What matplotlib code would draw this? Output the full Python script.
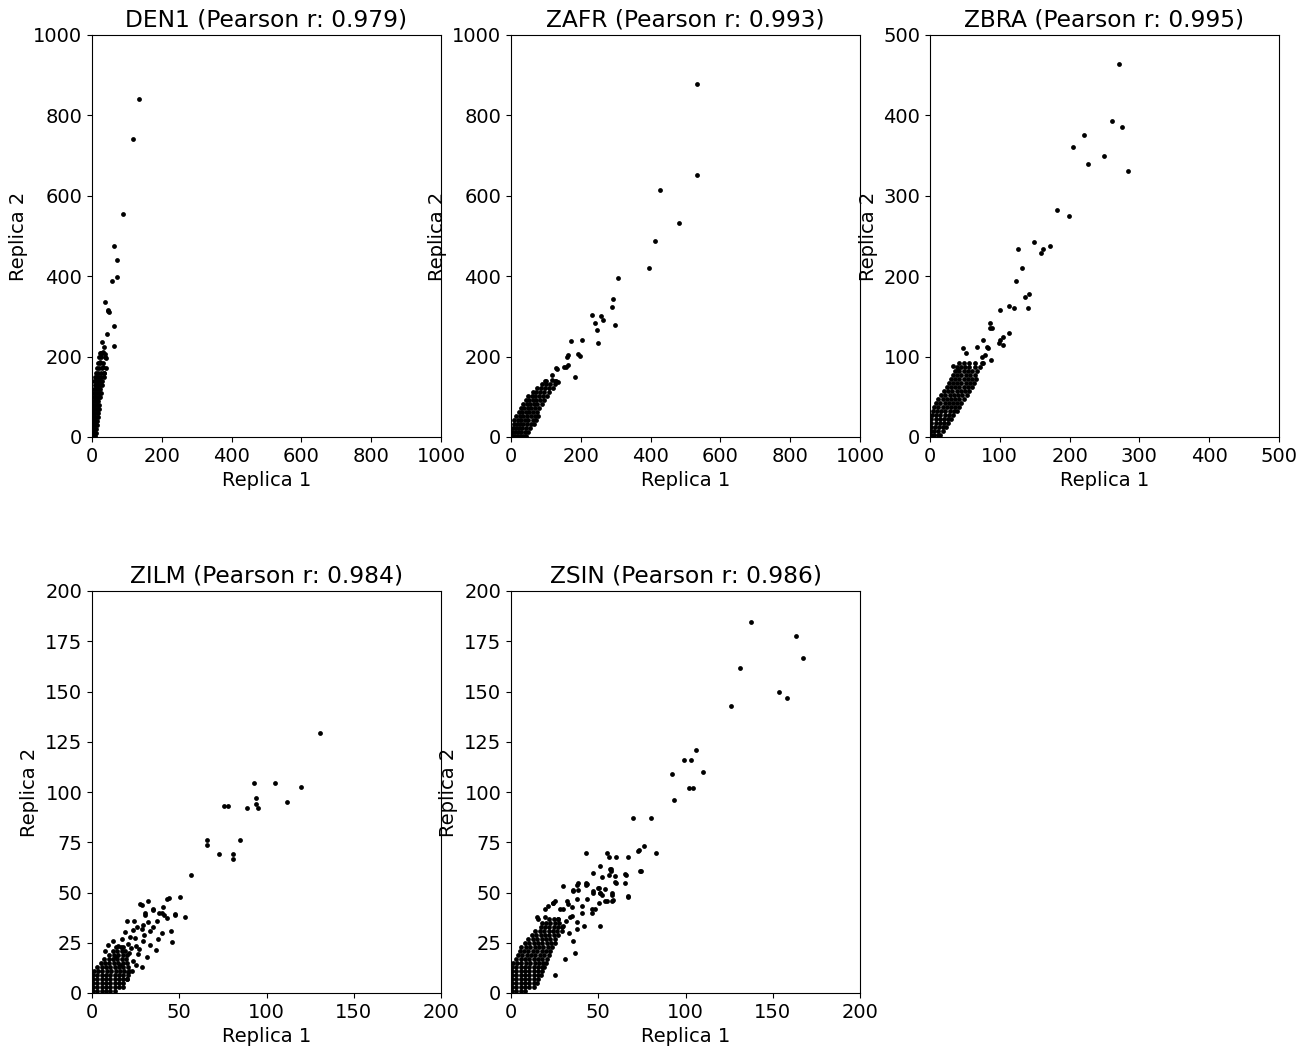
import numpy as np
import matplotlib
matplotlib.use("Agg")
import matplotlib.pyplot as plt

plt.rcParams["font.size"] = 14

samples = ["DEN1", "ZAFR", "ZBRA", "ZILM", "ZSIN"]
pearson_r = [0.979, 0.993, 0.995, 0.984, 0.986]
axis_max = [1000, 1000, 500, 200, 200]
xtick_step = [200, 200, 100, 50, 50]
ytick_step = [200, 200, 100, 25, 25]

# (replica 1, replica 2) counts per sample
den1_pts = [
    (1, 2), (5, 2), (9, 2), (2, 10), (7, 10), (12, 10), (1, 20), (6, 20), (11, 20),
    (3, 30), (8, 30), (13, 30), (2, 40), (7, 40), (12, 40), (15, 40),
    (1, 50), (5, 50), (10, 50), (16, 50), (3, 60), (8, 60), (13, 60), (17, 60),
    (2, 70), (6, 70), (11, 70), (16, 70), (19, 70), (4, 80), (9, 80), (14, 80), (20, 80),
    (3, 90), (8, 90), (13, 90), (18, 90), (5, 100), (10, 100), (15, 100), (21, 100), (24, 100),
    (4, 110), (9, 110), (14, 110), (19, 110), (25, 110), (6, 120), (11, 120), (16, 120), (22, 120),
    (8, 130), (13, 130), (18, 130), (24, 130), (28, 130), (7, 140), (12, 140), (17, 140), (23, 140), (30, 140),
    (10, 150), (15, 150), (21, 150), (27, 150), (33, 150), (12, 160), (18, 160), (25, 160), (34, 160),
    (14, 172), (20, 172), (28, 172), (18, 185), (24, 185), (31, 185), (20, 198), (27, 198), (36, 198),
    (22, 210), (30, 210),
    (23, 187), (32, 175), (39, 196), (26, 208), (31, 212), (37, 207), (39, 171), (34, 160),
    (28, 236), (33, 223), (64, 227), (43, 256), (64, 277), (47, 316), (49, 310), (45, 313),
    (37, 335), (58, 388), (73, 397), (73, 440), (64, 474), (89, 555), (118, 742), (135, 842),
]

zafr_pts = [
    (2, 3), (10, 3), (18, 3), (26, 3), (34, 3), (44, 3),
    (3, 12), (12, 12), (21, 12), (30, 12), (40, 12), (50, 12),
    (5, 22), (14, 22), (23, 22), (32, 22), (42, 22), (55, 22),
    (8, 32), (17, 32), (26, 32), (35, 32), (45, 32), (58, 32), (66, 32),
    (10, 42), (20, 42), (30, 42), (40, 42), (50, 42), (62, 42), (72, 42),
    (15, 52), (25, 52), (35, 52), (45, 52), (56, 52), (68, 52), (78, 52),
    (22, 62), (32, 62), (42, 62), (52, 62), (62, 62), (74, 62),
    (28, 72), (38, 72), (48, 72), (58, 72), (68, 72), (80, 72),
    (35, 82), (45, 82), (55, 82), (65, 82), (75, 82), (88, 82),
    (42, 92), (52, 92), (62, 92), (72, 92), (84, 92), (95, 92),
    (50, 102), (60, 102), (70, 102), (80, 102), (92, 102), (104, 102),
    (62, 112), (72, 112), (82, 112), (94, 112), (108, 112),
    (75, 122), (85, 122), (98, 122), (110, 122), (120, 122),
    (88, 132), (100, 132), (112, 132), (125, 132),
    (100, 140), (126, 140), (134, 138), (98, 140), (118, 141), (130, 139), (117, 154),
    (129, 171), (133, 168), (153, 174), (158, 173), (164, 178), (184, 150),
    (161, 200), (164, 203), (192, 206), (198, 201), (172, 239), (204, 242), (250, 235),
    (233, 303), (257, 300), (263, 291), (240, 284), (297, 278), (246, 267),
    (292, 343), (289, 324), (307, 396), (395, 421), (414, 488), (481, 533),
    (427, 614), (533, 652), (533, 878),
]

zbra_pts = [
    (1, 2), (6, 2), (11, 2), (15, 2), (1, 7), (6, 7), (12, 7), (18, 7),
    (1, 12), (7, 12), (13, 12), (19, 12), (23, 12), (2, 17), (8, 17), (14, 17), (20, 17), (26, 17),
    (2, 22), (8, 22), (14, 22), (20, 22), (26, 22), (30, 22),
    (3, 27), (9, 27), (15, 27), (21, 27), (27, 27), (33, 27),
    (4, 32), (10, 32), (16, 32), (22, 32), (28, 32), (34, 32), (38, 32),
    (6, 37), (12, 37), (18, 37), (24, 37), (30, 37), (36, 37), (42, 37),
    (9, 42), (15, 42), (21, 42), (27, 42), (33, 42), (39, 42), (45, 42),
    (12, 47), (18, 47), (24, 47), (30, 47), (36, 47), (42, 47), (49, 47),
    (16, 52), (22, 52), (28, 52), (34, 52), (40, 52), (46, 52), (53, 52),
    (20, 57), (26, 57), (32, 57), (38, 57), (44, 57), (50, 57), (56, 57),
    (24, 62), (30, 62), (36, 62), (42, 62), (48, 62), (54, 62), (60, 62),
    (27, 67), (33, 67), (39, 67), (45, 67), (51, 67), (57, 67), (63, 67),
    (30, 72), (36, 72), (42, 72), (48, 72), (54, 72), (60, 72), (66, 72),
    (33, 77), (39, 77), (45, 77), (51, 77), (57, 77), (64, 77),
    (36, 82), (42, 82), (48, 82), (54, 82), (60, 82), (68, 82),
    (38, 87), (44, 87), (50, 87), (56, 87), (64, 87), (72, 87),
    (42, 92), (48, 92), (56, 92), (64, 92), (74, 92),
    (46.7, 111), (52, 104), (66.7, 112), (33, 88.7), (40.5, 83), (88, 95.8), (76, 91.7),
    (76, 120.6), (81, 112.3), (83.3, 110.3), (78.6, 102), (73.8, 99.9),
    (100, 120.6), (104, 124.8), (98.6, 117.3), (104, 114.8), (113.3, 129.8),
    (86, 142), (85.7, 135.2), (88.6, 135.2), (100.5, 157.6), (113.3, 162.9), (121, 160),
    (140, 160.9), (135.7, 173.7), (141.9, 177.9), (122.9, 194), (131.9, 209.8),
    (125.7, 233.8), (148.6, 243), (162.4, 233.8), (159.5, 228.9), (172.4, 237.2),
    (181.4, 282.3), (198.6, 274.5), (204.8, 360.3), (221, 375.2), (225.7, 339.5),
    (248.6, 349.5), (260.5, 392.6), (275.7, 385.2), (283.8, 330.4), (270.5, 463.5),
]

zilm_pts = [
    (0.5, 1), (3, 1), (5.5, 1), (8, 1), (10.5, 1), (13, 1),
    (0.5, 3), (3, 3), (5.5, 3), (8, 3), (10.5, 3), (13, 3), (15.5, 3), (18, 3),
    (0.5, 5), (3, 5), (5.5, 5), (8, 5), (10.5, 5), (13, 5), (15.5, 5), (18, 5),
    (0.5, 7), (3, 7), (5.5, 7), (8, 7), (10.5, 7), (13, 7), (15.5, 7), (18, 7), (20, 7),
    (0.5, 9), (3, 9), (5.5, 9), (8, 9), (10.5, 9), (13, 9), (15.5, 9), (18, 9), (20.5, 9),
    (1, 11), (3.5, 11), (6, 11), (8.5, 11), (11, 11), (13.5, 11), (16, 11), (18.5, 11), (21, 11),
    (3, 13), (5.5, 13), (8, 13), (10.5, 13), (13, 13), (15.5, 13), (18, 13), (20.5, 13),
    (5, 15), (7.5, 15), (10, 15), (12.5, 15), (15, 15), (17.5, 15), (20, 15),
    (7, 17), (9.5, 17), (12, 17), (14.5, 17), (17, 17), (19.5, 17),
    (10, 19), (12.5, 19), (15, 19), (17.5, 19), (20, 19),
    (12, 21), (14.5, 21), (17, 21), (19, 21), (14, 23), (16.5, 23), (18, 23),
    (19.9, 6.9), (20.8, 10.3), (23, 11), (25, 14), (16, 14), (23.7, 16), (28.5, 12.8),
    (14, 18), (21, 20), (26.5, 19.5), (31.7, 18), (7.4, 21), (36.7, 21.3), (9, 24),
    (15.1, 23.5), (20.8, 24.3), (22.6, 22.3), (25.4, 23.6), (27, 22), (33, 24), (45.6, 25.2),
    (12, 26), (17, 27), (24.6, 27.6), (29.4, 26), (38, 27), (22, 28), (18.9, 30.1),
    (23.6, 31.5), (28.5, 31.8), (30, 29), (33.2, 30.6), (40, 30), (45, 31), (26, 33),
    (35, 33), (29, 34), (32.3, 35.1), (19.9, 35.9), (24, 36), (37, 36),
    (30.4, 38.7), (42.8, 37.4), (47.6, 39.2), (53.3, 37.9), (39.9, 40), (38.6, 40),
    (41, 39), (47.7, 39), (30.4, 40), (34.8, 42), (40.7, 42.8), (35.2, 41.3),
    (28.8, 44), (27.5, 44.5), (32.3, 45.8), (42.8, 46.7), (44, 47.5), (50.4, 48),
    (56.7, 58.9), (65.9, 73.8), (65.9, 76.1), (72.8, 69), (80.8, 69), (80.8, 66.8),
    (84.8, 75.9), (75.6, 92.8), (77.8, 92.8), (88.8, 91.8), (94.9, 91.8), (93.8, 93.9),
    (93.8, 96.9), (112, 94.9), (92.8, 104.4), (104.9, 104.4), (119.8, 102.4), (130.8, 129.4),
]

zsin_pts = [
    (0.5, 1), (3, 1), (5.5, 1), (8, 1),
    (0.5, 3), (3, 3), (5.5, 3), (8, 3), (10.5, 3), (13, 3),
    (0.5, 5), (3, 5), (5.5, 5), (8, 5), (10.5, 5), (13, 5), (15, 5),
    (0.5, 7), (3, 7), (5.5, 7), (8, 7), (10.5, 7), (13, 7), (15.5, 7),
    (0.5, 9), (3, 9), (5.5, 9), (8, 9), (10.5, 9), (13, 9), (15.5, 9), (17, 9),
    (0.5, 11), (3, 11), (5.5, 11), (8, 11), (10.5, 11), (13, 11), (15.5, 11), (18, 11),
    (0.5, 13), (3, 13), (5.5, 13), (8, 13), (10.5, 13), (13, 13), (15.5, 13), (18, 13), (19, 13),
    (1, 15), (3.5, 15), (6, 15), (8.5, 15), (11, 15), (13.5, 15), (16, 15), (18.5, 15), (20, 15),
    (3, 17), (5.5, 17), (8, 17), (10.5, 17), (13, 17), (15.5, 17), (18, 17), (20.5, 17),
    (4, 19), (6.5, 19), (9, 19), (11.5, 19), (14, 19), (16.5, 19), (19, 19), (21.5, 19),
    (5, 21), (7.5, 21), (10, 21), (12.5, 21), (15, 21), (17.5, 21), (20, 21), (22.5, 21),
    (6, 23), (8.5, 23), (11, 23), (13.5, 23), (16, 23), (18.5, 23), (21, 23), (23.5, 23),
    (8, 25), (10.5, 25), (13, 25), (15.5, 25), (18, 25), (20.5, 25), (23, 25), (25, 25),
    (10, 27), (12.5, 27), (15, 27), (17.5, 27), (20, 27), (22.5, 27), (25, 27),
    (12, 29), (14.5, 29), (17, 29), (19.5, 29), (22, 29), (24.5, 29), (27, 29),
    (14, 31), (16.5, 31), (19, 31), (21.5, 31), (24, 31), (26.5, 31), (29, 31),
    (17, 33), (19.5, 33), (22, 33), (24.5, 33), (27, 33), (29, 33),
    (20, 35), (22.5, 35), (25, 35), (27.5, 35), (22, 37), (24.5, 37), (27, 37),
    (25.2, 9.1), (30.9, 16.9), (36.7, 20), (35.7, 26), (33, 30), (37.6, 31.8), (42, 33.5),
    (30, 33.4), (51, 33.4), (15.7, 36.7), (14.7, 37.6), (17.6, 35), (19.5, 37.6),
    (27.1, 36.7), (31.5, 36), (33.8, 37.6), (34.8, 38.4), (37.6, 35.1),
    (40.5, 40), (46.7, 40), (27.8, 41.8), (19.5, 41.7), (30, 41.7), (46.2, 41.7), (48.1, 41.7),
    (35, 42.6), (21.4, 43.3), (40.5, 43.3), (24.2, 45), (23.9, 45), (25.2, 45.8),
    (31.9, 45.8), (32.8, 44.2), (43.4, 46.7), (50.3, 45), (54.1, 45.8), (58.1, 45.8),
    (54.8, 45.8), (58.6, 46.2), (38, 47), (67, 48), (67.2, 48.3), (47.2, 50), (51, 49.6),
    (52.1, 49), (58.1, 49), (57.7, 50), (51, 50), (35.4, 51), (38.4, 51), (35.7, 50.8),
    (47.2, 50.8), (50.3, 52), (50, 52.4), (53.9, 51.7), (30, 53), (38, 53.9), (43.4, 54),
    (43.2, 54.9), (43.2, 53.9), (38.2, 54.9), (60.2, 54.9), (65.3, 54.9), (59.6, 55.2),
    (52.1, 57.9), (56, 58.9), (65.9, 58.9), (59.6, 58.2), (47.2, 59.9), (65.3, 59),
    (74, 60.7), (74.7, 60.9), (57.2, 60.9), (57.2, 61.9), (56.7, 61.5), (51.2, 63),
    (55, 69.8), (56, 67.8), (60.2, 67.8), (67, 67.8), (43.2, 69.8), (73.2, 71),
    (73, 70.6), (83.1, 69.8), (76.2, 73), (70.1, 86.9), (80.2, 86.9),
    (93.2, 95.8), (92.3, 108.8), (102, 101.9), (104.1, 101.9), (110.2, 109.8),
    (99.1, 116), (103.3, 116), (106.2, 120.9), (126.2, 142.8), (131.3, 161.8),
    (153.4, 149.9), (158.2, 146.8), (137.3, 184.8), (163.3, 177.8), (167.3, 166.9),
]

all_pts = [den1_pts, zafr_pts, zbra_pts, zilm_pts, zsin_pts]

fig = plt.figure(figsize=(13.15, 10.52), dpi=100)
W, H = 1315, 1052
col_left = [92, 511, 930]
row_top = [35, 591]
ax_w, ax_h = 349, 402

for i, (name, r, lim, pts) in enumerate(zip(samples, pearson_r, axis_max, all_pts)):
    row, col = divmod(i, 3)
    left = col_left[col] / W
    bottom = 1 - (row_top[row] + ax_h) / H
    ax = fig.add_axes([left, bottom, ax_w / W, ax_h / H])
    xy = np.array(pts, dtype=float)
    ax.scatter(xy[:, 0], xy[:, 1], s=12, c="black", linewidths=0)
    ax.set_xlim(0, lim)
    ax.set_ylim(0, lim)
    ax.set_xticks(np.arange(0, lim + 1, xtick_step[i]))
    ax.set_yticks(np.arange(0, lim + 1, ytick_step[i]))
    ax.set_title(f"{name} (Pearson r: {r:.3f})")
    ax.set_xlabel("Replica 1")
    ax.set_ylabel("Replica 2")

fig.savefig("out.png", dpi=100)
